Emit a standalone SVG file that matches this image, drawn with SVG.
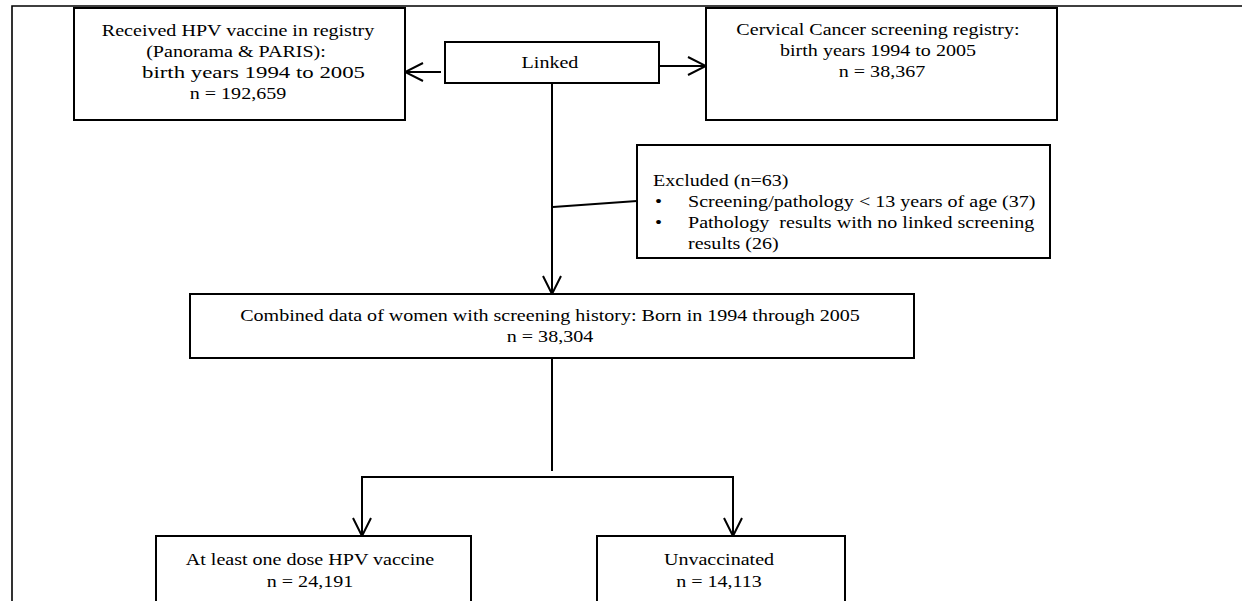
<svg xmlns="http://www.w3.org/2000/svg" width="1242" height="601" viewBox="0 0 1242 601">
<style>
  .box { fill: #ffffff; stroke: #000000; stroke-width: 2; }
  .frame { fill: none; stroke: #000000; stroke-width: 1.6; }
  .conn { fill: none; stroke: #000000; stroke-width: 2; }
  text { font-family: "Liberation Serif", "Times New Roman", serif; font-size: 17px; fill: #000000; }
  .c { text-anchor: middle; }
  .l { text-anchor: start; }
</style>
<defs>
  <marker id="arr" viewBox="0 0 20 20" refX="19" refY="10" markerWidth="20" markerHeight="20" markerUnits="userSpaceOnUse" orient="auto">
    <path d="M1,1 L19,10 L1,19" fill="none" stroke="#000000" stroke-width="2"/>
  </marker>
</defs>
<rect width="1242" height="601" fill="#ffffff"/>
<g id="frame">
  <path class="frame" d="M12,601 L12,6 L1242,6"/>
</g>
<g id="connectors">
  <line class="conn" x1="441" y1="72" x2="405" y2="72" marker-end="url(#arr)"/>
  <line class="conn" x1="659" y1="66" x2="706" y2="66" marker-end="url(#arr)"/>
  <line class="conn" x1="552" y1="83" x2="552" y2="294" marker-end="url(#arr)"/>
  <line class="conn" x1="553" y1="207" x2="637" y2="201"/>
  <line class="conn" x1="552" y1="358" x2="552" y2="471"/>
  <path class="conn" d="M362,536 L362,477 L733,477 L733,536"/>
  <line class="conn" x1="362" y1="500" x2="362" y2="536" marker-end="url(#arr)"/>
  <line class="conn" x1="733" y1="500" x2="733" y2="536" marker-end="url(#arr)"/>
</g>
<g id="vaccine-registry">
  <rect class="box" x="74" y="8" width="331" height="112"/>
  <text class="c" transform="translate(238,36) scale(1.18,1)">Received HPV vaccine in registry</text>
  <text class="c" transform="translate(236,57) scale(1.18,1)">(Panorama &amp; PARIS):</text>
  <text class="l" transform="translate(142,78) scale(1.18,1)" textLength="189" lengthAdjust="spacingAndGlyphs">birth years 1994 to 2005</text>
  <text class="c" transform="translate(238,99) scale(1.18,1)">n = 192,659</text>
</g>
<g id="linked">
  <rect class="box" x="445" y="42" width="214" height="41"/>
  <text class="c" transform="translate(550,68) scale(1.18,1)">Linked</text>
</g>
<g id="screening-registry">
  <rect class="box" x="706" y="8" width="351" height="112"/>
  <text class="c" transform="translate(878,35) scale(1.18,1)">Cervical Cancer screening registry:</text>
  <text class="c" transform="translate(878,56) scale(1.18,1)">birth years 1994 to 2005</text>
  <text class="c" transform="translate(882,77) scale(1.18,1)">n = 38,367</text>
</g>
<g id="excluded">
  <rect class="box" x="637" y="145" width="413" height="113"/>
  <text class="l" transform="translate(653,186) scale(1.18,1)">Excluded (n=63)</text>
  <text class="l" transform="translate(655,207) scale(1.18,1)">•</text>
  <text class="l" transform="translate(688,207) scale(1.18,1)">Screening/pathology &lt; 13 years of age (37)</text>
  <text class="l" transform="translate(655,228) scale(1.18,1)">•</text>
  <text class="l" transform="translate(688,228) scale(1.18,1)">Pathology&#160; results with no linked screening</text>
  <text class="l" transform="translate(688,249) scale(1.18,1)">results (26)</text>
</g>
<g id="combined">
  <rect class="box" x="190" y="294" width="724" height="64"/>
  <text class="c" transform="translate(550,321) scale(1.18,1)">Combined data of women with screening history: Born in 1994 through 2005</text>
  <text class="c" transform="translate(550,342) scale(1.18,1)">n = 38,304</text>
</g>
<g id="vaccinated">
  <rect class="box" x="156" y="536" width="315" height="80"/>
  <text class="c" transform="translate(310,565) scale(1.18,1)">At least one dose HPV vaccine</text>
  <text class="c" transform="translate(310,587) scale(1.18,1)">n = 24,191</text>
</g>
<g id="unvaccinated">
  <rect class="box" x="597" y="536" width="248" height="80"/>
  <text class="c" transform="translate(719,565) scale(1.18,1)">Unvaccinated</text>
  <text class="c" transform="translate(719,587) scale(1.18,1)">n = 14,113</text>
</g>
</svg>
